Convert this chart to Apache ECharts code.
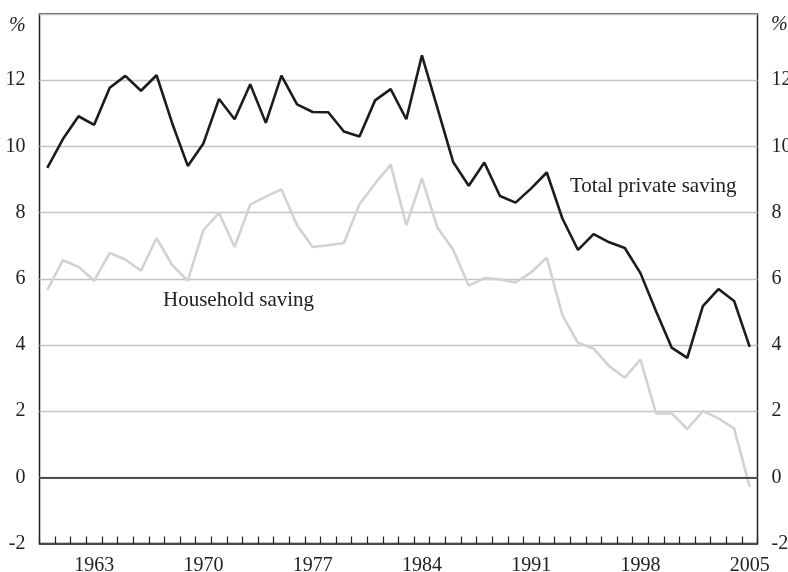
<!DOCTYPE html>
<html>
<head>
<meta charset="utf-8">
<script src="https://cdn.jsdelivr.net/npm/echarts@6/dist/echarts.min.js"></script>
<style>
html,body{margin:0;padding:0;background:#fff;overflow:hidden;}
#c{width:788px;height:572px;}
</style>
</head>
<body>
<div id="c"></div>
<script>
var years = ['1960','1961','1962','1963','1964','1965','1966','1967','1968','1969',
             '1970','1971','1972','1973','1974','1975','1976','1977','1978','1979',
             '1980','1981','1982','1983','1984','1985','1986','1987','1988','1989',
             '1990','1991','1992','1993','1994','1995','1996','1997','1998','1999',
             '2000','2001','2002','2003','2004','2005'];
var labelYears = ['1963','1970','1977','1984','1991','1998','2005'];
var totalPrivateSaving = [9.35,10.22,10.91,10.65,11.77,12.13,11.68,12.15,10.7,9.41,
                          10.09,11.43,10.82,11.88,10.71,12.14,11.27,11.04,11.03,10.45,
                          10.30,11.39,11.73,10.82,12.75,11.15,9.53,8.81,9.51,8.50,
                          8.30,8.73,9.21,7.82,6.87,7.35,7.10,6.93,6.17,5.02,
                          3.92,3.61,5.17,5.69,5.33,3.94];
var householdSaving = [5.66,6.56,6.36,5.94,6.78,6.58,6.24,7.23,6.41,5.94,
                       7.47,7.99,6.96,8.24,8.48,8.70,7.62,6.96,7.01,7.08,
                       8.25,8.88,9.45,7.62,9.03,7.54,6.88,5.79,6.02,5.98,
                       5.89,6.19,6.64,4.90,4.06,3.89,3.36,3.01,3.56,1.93,
                       1.93,1.46,2.00,1.78,1.48,-0.29];
var yMin = -2, yMax = 14, yStep = 2;
var unitLabel = '%';
var seriesNames = ['Total private saving','Household saving'];

var FONT = "'Liberation Serif','Times New Roman',serif";
var chart = echarts.init(document.getElementById('c'));

function yAxisCfg(pos){
  return {
    type:'value', position:pos, min:yMin, max:yMax, interval:yStep,
    axisLine:{show:false}, axisTick:{show:false},
    splitLine:{show: pos==='left', lineStyle:{color:'#c4c4c4', width:1.3}},
    axisLabel:{
      margin:14, color:'#222', fontFamily:FONT, fontSize:20,
      formatter:function(v){ return v===yMax ? '' : String(v); }
    }
  };
}

chart.setOption({
  animation:false,
  backgroundColor:'#fff',
  grid:{left:39.5, right:30.5, top:14, bottom:28.5, show:true,
        containLabel:false, outerBoundsMode:'none',
        borderColor:'#222', borderWidth:1.5, backgroundColor:'transparent'},
  xAxis:{
    type:'category', data:years, boundaryGap:true,
    axisLine:{show:true, onZero:false, lineStyle:{color:'#222', width:1.5}},
    axisTick:{show:true, inside:true, length:7, interval:0, lineStyle:{color:'#222', width:1.2}},
    axisLabel:{
      margin:12, color:'#222', fontFamily:FONT, fontSize:20,
      interval:function(i, v){ return labelYears.indexOf(v) >= 0; }
    },
    splitLine:{show:false}
  },
  yAxis:[yAxisCfg('left'), yAxisCfg('right')],
  series:[
    {
      name:seriesNames[1], type:'line', data:householdSaving, yAxisIndex:0,
      symbol:'none', smooth:false,
      lineStyle:{color:'#d2d2d2', width:2.6},
      z:3
    },
    {
      name:seriesNames[0], type:'line', data:totalPrivateSaving, yAxisIndex:0,
      symbol:'none', smooth:false,
      lineStyle:{color:'#1c1c1c', width:2.6},
      z:4,
      markLine:{
        silent:true, symbol:'none', label:{show:false},
        lineStyle:{color:'#222', width:1.5, type:'solid'},
        data:[{yAxis:0}]
      }
    }
  ],
  graphic:[
    {type:'text', left:9, top:16, style:{text:unitLabel, font:'italic 20px '+FONT, fill:'#222'}},
    {type:'text', left:771, top:15, style:{text:unitLabel, font:'italic 20px '+FONT, fill:'#222'}},
    {type:'text', left:570, top:176, style:{text:seriesNames[0], font:'21px '+FONT, fill:'#222'}},
    {type:'text', left:163, top:290, style:{text:seriesNames[1], font:'21px '+FONT, fill:'#222'}}
  ]
});
</script>
</body>
</html>
